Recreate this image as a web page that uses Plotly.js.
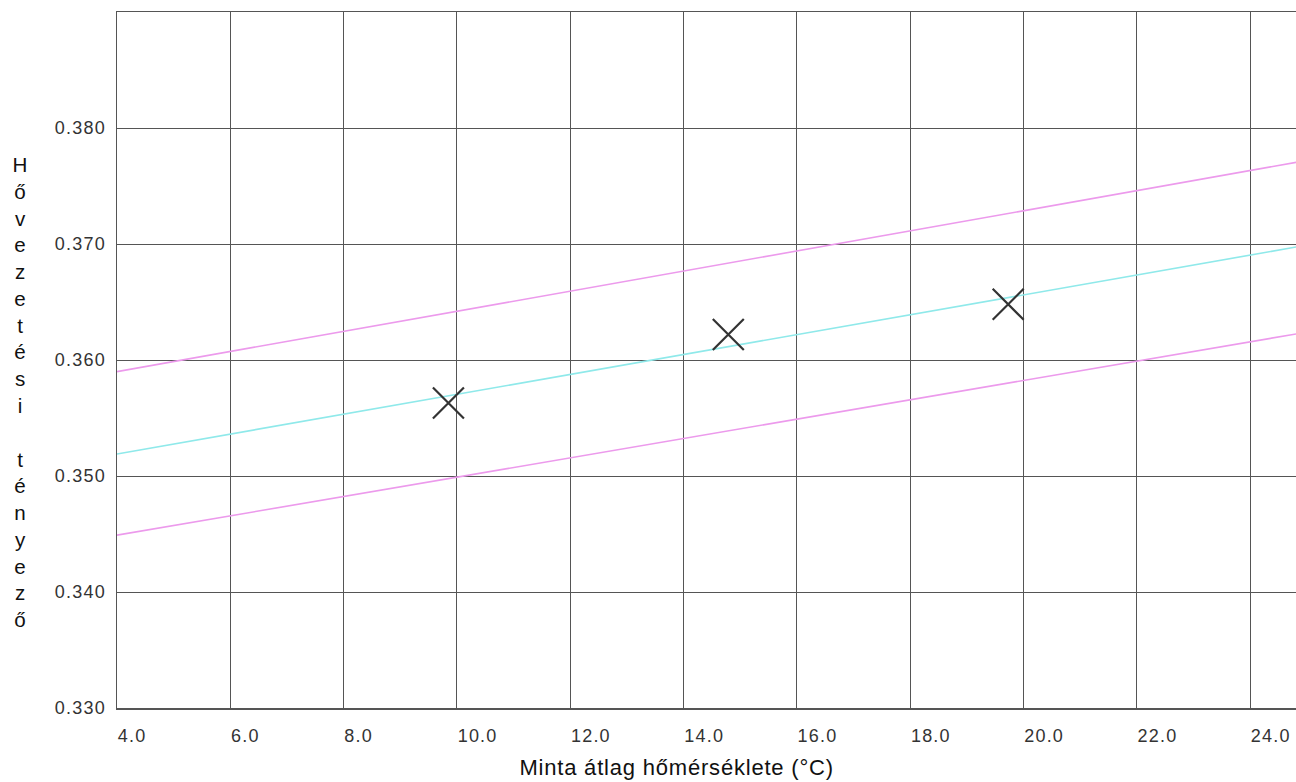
<!DOCTYPE html>
<html>
<head>
<meta charset="utf-8">
<script src="https://cdn.plot.ly/plotly-3.0.1.min.js"></script>
<style>
  html, body { margin: 0; padding: 0; background: #fff; }
  #chart { width: 1296px; height: 782px; }
  #chart .xtick text, #chart .ytick text { letter-spacing: 1.2px; }
  #chart .annotation-text { letter-spacing: 0.8px; }
</style>
</head>
<body>
<div id="chart"></div>
<script>
// Mean sample temperature (°C) at the ends of the reference lines
const lineTemps = [4.0, 25.0];
// Thermal conductivity reference line and its upper / lower tolerance limits
const centerLine = [0.3519, 0.3699];
const upperLimit = [0.3590, 0.3772];
const lowerLimit = [0.3449, 0.3624];

// Measured points
const measTemps = [9.85, 14.79, 19.73];
const measValues = [0.3563, 0.3622, 0.3648];

// Axis tick values
const xTicks = [4, 6, 8, 10, 12, 14, 16, 18, 20, 22, 24];
const yTicks = [0.33, 0.34, 0.35, 0.36, 0.37, 0.38];

const xTitle = 'Minta átlag hőmérséklete (°C)';
const yTitle = 'Hővezetési tényező';

const cyan = '#8fe9ea';
const magenta = '#ec9aec';

const traces = [
  { x: lineTemps, y: upperLimit, mode: 'lines', line: { color: magenta, width: 1.6 }, hoverinfo: 'skip' },
  { x: lineTemps, y: lowerLimit, mode: 'lines', line: { color: magenta, width: 1.6 }, hoverinfo: 'skip' },
  { x: lineTemps, y: centerLine, mode: 'lines', line: { color: cyan, width: 1.6 }, hoverinfo: 'skip' },
  {
    x: measTemps, y: measValues, mode: 'markers',
    marker: { symbol: 'x-thin-open', size: 31, color: '#333', line: { color: '#333', width: 2.2 } }
  }
];

// stacked, upright y-axis label: one letter per line
const stacked = yTitle.split('').join('<br>');

// plot area in pixels: x 117..1296, y 12..708
const PL = 117, PW = 1179, PT = 12, PH = 696;

const layout = {
  width: 1296, height: 782,
  margin: { l: PL, r: 0, t: PT, b: 74 },
  paper_bgcolor: '#fff', plot_bgcolor: '#fff',
  showlegend: false,
  font: { family: 'Liberation Sans, Arial, sans-serif', color: '#333' },
  xaxis: {
    range: [4.0, 24.81], tickvals: xTicks, tickformat: '.1f',
    showgrid: true, gridcolor: '#555', gridwidth: 1,
    showline: true, linecolor: '#555', linewidth: 1.5, mirror: true,
    zeroline: false, ticks: '',
    ticklabelposition: 'outside right', ticklabelstandoff: 11,
    tickfont: { size: 18, color: '#333' }
  },
  yaxis: {
    range: [0.330, 0.390], tickvals: yTicks, tickformat: '.3f',
    showgrid: true, gridcolor: '#555', gridwidth: 1,
    showline: true, linecolor: '#555', linewidth: 1.5,
    zeroline: false, ticks: '', ticklabelstandoff: 6,
    tickfont: { size: 18, color: '#333' }
  },
  annotations: [
    {
      text: stacked, xref: 'paper', yref: 'paper',
      x: (20 - PL) / PW, y: 1 - (392 - PT) / PH,
      xanchor: 'center', yanchor: 'middle', showarrow: false,
      font: { size: 20.6, color: '#111' }
    },
    {
      text: xTitle, xref: 'paper', yref: 'paper',
      x: (676 - PL) / PW, y: 1 - (767 - PT) / PH,
      xanchor: 'center', yanchor: 'middle', showarrow: false,
      font: { size: 22, color: '#111' }
    }
  ]
};

Plotly.newPlot('chart', traces, layout, { displayModeBar: false, staticPlot: true });
</script>
</body>
</html>
